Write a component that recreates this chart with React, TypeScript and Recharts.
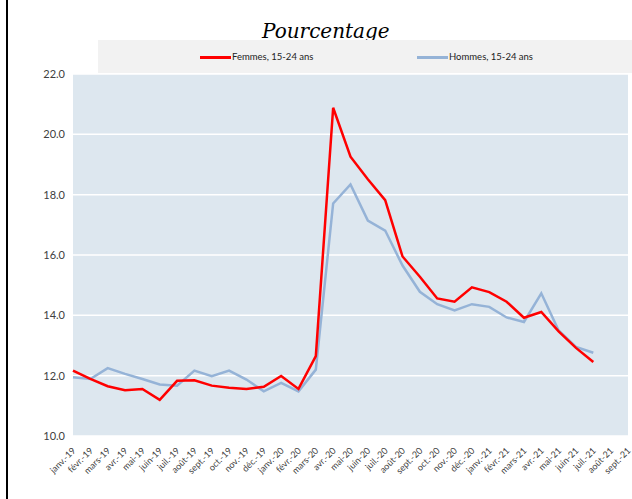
import { LineChart, Line, XAxis, YAxis, CartesianGrid } from 'recharts'

const months = [
  'janv.-19', 'févr.-19', 'mars-19', 'avr.-19', 'mai-19', 'juin-19', 'juil.-19', 'août-19', 'sept.-19', 'oct.-19', 'nov.-19', 'déc.-19',
  'janv.-20', 'févr.-20', 'mars-20', 'avr.-20', 'mai-20', 'juin-20', 'juil.-20', 'août-20', 'sept.-20', 'oct.-20', 'nov.-20', 'déc.-20',
  'janv.-21', 'févr.-21', 'mars-21', 'avr.-21', 'mai-21', 'juin-21', 'juil.-21', 'août-21', 'sept.-21',
]

const femmes = [
  12.17, 11.89, 11.65, 11.52, 11.56, 11.2, 11.83, 11.85, 11.67, 11.6, 11.56, 11.63,
  11.99, 11.56, 12.65, 20.88, 19.26, 18.51, 17.82, 15.95, 15.28, 14.56, 14.45, 14.93,
  14.77, 14.45, 13.92, 14.11, 13.47, 12.92, 12.45, null, null,
]

const hommes = [
  11.95, 11.89, 12.25, 12.06, 11.89, 11.71, 11.67, 12.17, 11.98, 12.17, 11.87, 11.48,
  11.76, 11.48, 12.2, 17.71, 18.34, 17.14, 16.81, 15.65, 14.78, 14.37, 14.16, 14.37,
  14.28, 13.93, 13.78, 14.73, 13.5, 12.95, 12.76, null, null,
]

const yTicks = [10, 12, 14, 16, 18, 20, 22]

const data = months.map((m, i) => ({ month: m, femmes: femmes[i], hommes: hommes[i] }))

const font = 'Lato, "Open Sans", sans-serif'

function MonthTick({ x, y, payload }: any) {
  return (
    <g transform={`translate(${x + 1},${y + 5})`}>
      <text textAnchor="end" dy="0.35em" transform="rotate(-45)" fontSize={9} fill="#404040" fontFamily={font}>
        {payload.value}
      </text>
    </g>
  )
}

export default function App() {
  return (
    <div style={{ position: 'absolute', left: 0, top: 0, width: 632, height: 499, background: '#fff', overflow: 'hidden' }}>
      <div style={{ position: 'absolute', left: 6, top: 0, width: 2, height: 499, background: '#000' }} />
      <div
        style={{
          position: 'absolute', left: 262, top: 19, lineHeight: '24px',
          fontFamily: '"DejaVu Serif", serif', fontStyle: 'italic', fontSize: 20, color: '#000',
        }}
      >
        Pourcentage
      </div>
      <div
        style={{
          position: 'absolute', left: 98, top: 40, width: 534, height: 33, background: '#f2f2f2',
          fontFamily: font, fontSize: 9.5, color: '#222',
        }}
      >
        <div style={{ position: 'absolute', left: 102, top: 16, width: 31, height: 3, background: '#ff0000' }} />
        <div style={{ position: 'absolute', left: 134, top: 11 }}>Femmes, 15-24 ans</div>
        <div style={{ position: 'absolute', left: 319, top: 16, width: 31, height: 3, background: '#95b3d7' }} />
        <div style={{ position: 'absolute', left: 351, top: 11 }}>Hommes, 15-24 ans</div>
      </div>
      <div style={{ position: 'absolute', left: 0, top: 0 }}>
        <LineChart width={632} height={499} data={data} margin={{ top: 74, right: 4, bottom: 0, left: 0 }}>
          <CartesianGrid vertical={false} fill="#dde7ef" stroke="#ffffff" strokeWidth={1.5} />
          <XAxis dataKey="month" interval={0} axisLine={false} tickLine={false} tick={<MonthTick />} height={63} />
          <YAxis
            domain={[10, 22]}
            ticks={yTicks}
            width={73}
            axisLine={false}
            tickLine={false}
            tickFormatter={(v: number) => v.toFixed(1)}
            tick={{ fontSize: 11, fill: '#404040', fontFamily: font }}
          />
          <Line dataKey="hommes" stroke="#95b3d7" strokeWidth={2.5} dot={false} isAnimationActive={false} />
          <Line dataKey="femmes" stroke="#ff0000" strokeWidth={2.5} dot={false} isAnimationActive={false} />
        </LineChart>
      </div>
    </div>
  )
}
